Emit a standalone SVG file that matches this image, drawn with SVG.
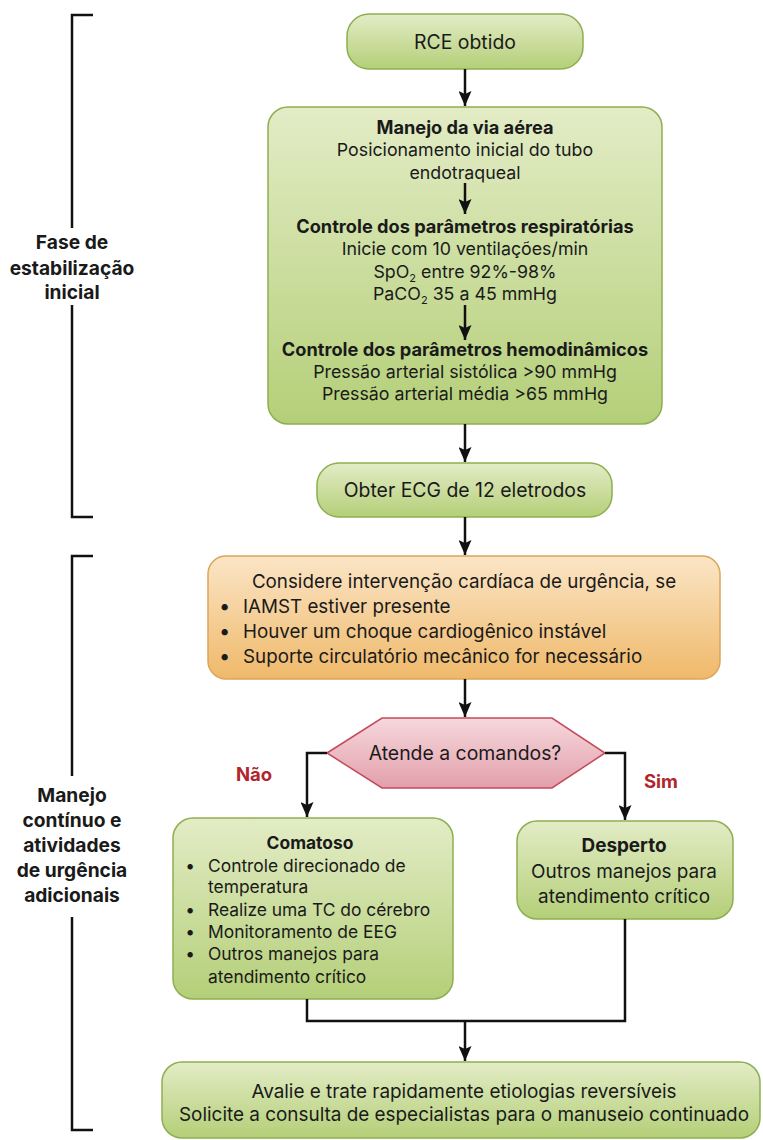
<svg xmlns="http://www.w3.org/2000/svg" width="763" height="1140" viewBox="0 0 763 1140">
<defs>
<linearGradient id="gG" x1="0" y1="0" x2="0" y2="1">
<stop offset="0" stop-color="#e3ecc6"/>
<stop offset="1" stop-color="#b4cf78"/>
</linearGradient>
<linearGradient id="gO" x1="0" y1="0" x2="0" y2="1">
<stop offset="0" stop-color="#fbe5c6"/>
<stop offset="1" stop-color="#efb96a"/>
</linearGradient>
<linearGradient id="gR" x1="0" y1="0" x2="0" y2="1">
<stop offset="0" stop-color="#f6d8dc"/>
<stop offset="1" stop-color="#e29fab"/>
</linearGradient>
<marker id="ad" viewBox="0 0 15 13" refX="15" refY="6.5" markerWidth="15" markerHeight="13" markerUnits="userSpaceOnUse" orient="auto">
<path d="M0,0 L15,6.5 L0,13 L3,6.5 Z" fill="#111"/>
</marker>
</defs>
<style>
text{font-family:Inter,"Liberation Sans",sans-serif;fill:#1a1a1a;font-size:17.4px}
.c{text-anchor:middle}
.b{font-weight:bold}
.red{fill:#b0262c;font-weight:bold;font-size:18.5px}
.grn{fill:url(#gG);stroke:#8eae52;stroke-width:1.5}
.org{fill:url(#gO);stroke:#dba55a;stroke-width:1.5}
.hex{fill:url(#gR);stroke:#c44a5c;stroke-width:1.5}
.ln{fill:none;stroke:#111;stroke-width:2.5}
.arr{fill:none;stroke:#111;stroke-width:2.5;marker-end:url(#ad)}
.br{fill:none;stroke:#111;stroke-width:2.5}
.bt{font-weight:bold;font-size:19.2px;text-anchor:middle}
.bu{font-size:20px}
.bs{font-weight:bold}
.o{font-size:18.8px}
.m{font-size:17.8px}
.mb{font-size:18.2px;font-weight:bold}
.d{font-size:18.9px}
.l{font-size:19.4px}
</style>
<rect width="763" height="1140" fill="#ffffff"/>

<g id="bracket1">
<path class="br" d="M93,15 H72 V228 M72,305 V517 H93"/>
<text class="bt" x="72" y="249">Fase de</text>
<text class="bt" x="72" y="275">estabilização</text>
<text class="bt" x="72" y="299">inicial</text>
</g>
<g id="bracket2">
<path class="br" d="M93,556 H72 V776 M72,917 V1130 H93"/>
<text class="bt" x="72" y="802">Manejo</text>
<text class="bt" x="72" y="827">contínuo e</text>
<text class="bt" x="72" y="852">atividades</text>
<text class="bt" x="72" y="877">de urgência</text>
<text class="bt" x="72" y="902">adicionais</text>
</g>

<g id="rce">
<rect class="grn" x="347" y="14" width="236" height="55" rx="22"/>
<text class="c l" x="465" y="49">RCE obtido</text>
</g>

<g id="estabilizacao">
<rect class="grn" x="268" y="107" width="394" height="317" rx="20"/>
<text class="c mb" x="465" y="134">Manejo da via aérea</text>
<text class="c m" x="465" y="156">Posicionamento inicial do tubo</text>
<text class="c m" x="465" y="179">endotraqueal</text>
<text class="c mb" x="465" y="233">Controle dos parâmetros respiratórias</text>
<text class="c m" x="465" y="255">Inicie com 10 ventilações/min</text>
<text class="c m" x="465" y="278">SpO<tspan font-size="11" dy="4">2</tspan><tspan dy="-4"> entre 92%-98%</tspan></text>
<text class="c m" x="465" y="300">PaCO<tspan font-size="11" dy="4">2</tspan><tspan dy="-4"> 35 a 45 mmHg</tspan></text>
<text class="c mb" x="465" y="356">Controle dos parâmetros hemodinâmicos</text>
<text class="c m" x="465" y="378">Pressão arterial sistólica &gt;90 mmHg</text>
<text class="c m" x="465" y="400">Pressão arterial média &gt;65 mmHg</text>
</g>

<g id="ecg">
<rect class="grn" x="317" y="463" width="295" height="54" rx="22"/>
<text class="c l" x="465" y="497">Obter ECG de 12 eletrodos</text>
</g>

<g id="intervencao">
<rect class="org" x="208" y="556" width="512" height="123" rx="18"/>
<text class="c o" x="464" y="588">Considere intervenção cardíaca de urgência, se</text>
<text class="o" x="219" y="613"><tspan class="bu">•</tspan><tspan x="243">IAMST estiver presente</tspan></text>
<text class="o" x="219" y="638"><tspan class="bu">•</tspan><tspan x="243">Houver um choque cardiogênico instável</tspan></text>
<text class="o" x="219" y="663"><tspan class="bu">•</tspan><tspan x="243">Suporte circulatório mecânico for necessário</tspan></text>
</g>

<g id="decisao">
<polygon class="hex" points="327,753 382,718 552,718 605,753 552,788 382,788"/>
<text class="c l" x="465" y="760">Atende a comandos?</text>
</g>

<text class="red c" x="254" y="781">Não</text>
<text class="red c" x="661" y="788">Sim</text>

<g id="comatoso">
<rect class="grn" x="173" y="818" width="280" height="181" rx="20"/>
<text class="c b" x="310" y="849">Comatoso</text>
<text x="186" y="872"><tspan class="bs">•</tspan><tspan x="208">Controle direcionado de</tspan></text>
<text x="208" y="893">temperatura</text>
<text x="186" y="916"><tspan class="bs">•</tspan><tspan x="208">Realize uma TC do cérebro</tspan></text>
<text x="186" y="938"><tspan class="bs">•</tspan><tspan x="208">Monitoramento de EEG</tspan></text>
<text x="186" y="960"><tspan class="bs">•</tspan><tspan x="208">Outros manejos para</tspan></text>
<text x="208" y="983">atendimento crítico</text>
</g>

<g id="desperto">
<rect class="grn" x="517" y="821" width="216" height="98" rx="20"/>
<text class="c b d" x="624" y="852">Desperto</text>
<text class="c d" x="624" y="878">Outros manejos para</text>
<text class="c d" x="624" y="903">atendimento crítico</text>
</g>

<g id="final">
<rect class="grn" x="162" y="1062" width="598" height="76" rx="20"/>
<text class="c d" x="464" y="1098">Avalie e trate rapidamente etiologias reversíveis</text>
<text class="c d" x="464" y="1121">Solicite a consulta de especialistas para o manuseio continuado</text>
</g>

<g id="connectors">
<line class="arr" x1="465" y1="69" x2="465" y2="106"/>
<line class="arr" x1="465" y1="183" x2="465" y2="214"/>
<line class="arr" x1="465" y1="305" x2="465" y2="340"/>
<line class="arr" x1="465" y1="424" x2="465" y2="462"/>
<line class="arr" x1="465" y1="517" x2="465" y2="555"/>
<line class="arr" x1="465" y1="679" x2="465" y2="717"/>
<polyline class="arr" points="327,753 307,753 307,817"/>
<polyline class="arr" points="605,753 625,753 625,820"/>
<polyline class="ln" points="307,999 307,1021 625,1021 625,919"/>
<line class="arr" x1="465" y1="1021" x2="465" y2="1061"/>
</g>
</svg>
